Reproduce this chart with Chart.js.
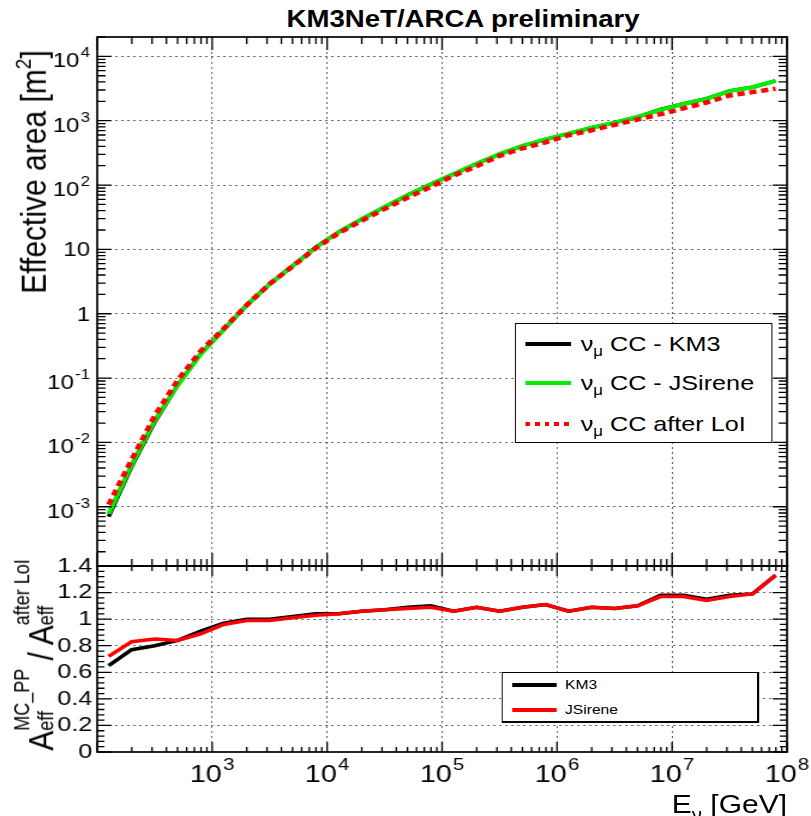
<!DOCTYPE html>
<html>
<head>
<meta charset="utf-8">
<script src="https://cdn.jsdelivr.net/npm/chart.js@4.4.1/dist/chart.umd.min.js"></script>
<style>
html,body{margin:0;padding:0;background:#fff;overflow:hidden;width:811px;height:816px;}
#wrap{position:absolute;left:0;top:0;width:676px;height:816px;transform:scaleX(1.1997);transform-origin:0 0;
  font-family:"Liberation Sans",Arial,Helvetica,sans-serif;color:#000;background:#fff;}
.abs{position:absolute;}
.rot{transform:translate(-50%,-50%) rotate(-90deg);white-space:nowrap;}
.legend{position:absolute;box-sizing:border-box;border:1.5px solid #000;background:#fff;}
.entry{position:absolute;left:0;height:0;width:100%;}
.sample{position:absolute;}
.lt{position:absolute;white-space:nowrap;}
.stk{display:inline-flex;flex-direction:column;font-size:18px;line-height:20px;vertical-align:20px;}
</style>
</head>
<body>
<div id="wrap">
  <div class="abs" style="left:386px;top:8px;transform:translateX(-50%);font-weight:bold;font-size:23px;line-height:23px;white-space:nowrap;">KM3NeT/ARCA preliminary</div>

  <div class="abs" style="left:0;top:0;width:676px;height:572px;"><canvas id="topChart"></canvas></div>
  <div class="abs" style="left:0;top:540px;width:676px;height:276px;"><canvas id="ratioChart"></canvas></div>

  <div class="abs rot" style="left:27.5px;top:172px;font-size:30px;line-height:30px;">Effective area [m<span style="font-size:19px;vertical-align:12px;line-height:0;">2</span>]</div>

  <div class="abs rot" style="left:29px;top:655px;font-size:30px;line-height:30px;">A<span class="stk"><span>MC_PP</span><span>eff</span></span> / A<span class="stk"><span>after LoI</span><span>eff</span></span></div>

  <div class="abs" style="right:20px;top:792px;font-size:25px;line-height:25px;white-space:nowrap;">E<span style="font-size:17px;vertical-align:-7px;line-height:0;">ν</span> [GeV]</div>

  <div class="legend" style="left:429px;top:323px;width:215px;height:120px;">
    <div class="entry" style="top:20px;"><span class="sample" style="left:8px;width:38px;top:-2px;height:4px;background:#000;"></span><span class="lt" style="left:54px;top:-13px;font-size:21px;line-height:26px;">ν<span style="font-size:14px;vertical-align:-5px;line-height:0;">μ</span> CC - KM3</span></div>
    <div class="entry" style="top:59px;"><span class="sample" style="left:8px;width:38px;top:-2px;height:4px;background:#00ee00;"></span><span class="lt" style="left:54px;top:-13px;font-size:21px;line-height:26px;">ν<span style="font-size:14px;vertical-align:-5px;line-height:0;">μ</span> CC - JSirene</span></div>
    <div class="entry" style="top:100px;"><span class="sample" style="left:8px;width:38px;top:-2px;height:4px;background:repeating-linear-gradient(90deg,#ff0000 0 4px,rgba(0,0,0,0) 4px 8px);"></span><span class="lt" style="left:54px;top:-13px;font-size:21px;line-height:26px;">ν<span style="font-size:14px;vertical-align:-5px;line-height:0;">μ</span> CC after LoI</span></div>
  </div>

  <div class="legend" style="left:418px;top:672px;width:215px;height:51px;border-width:1.5px 2.5px 2.5px 1.5px;">
    <div class="entry" style="top:12px;"><span class="sample" style="left:8px;width:37px;top:-2px;height:4px;background:#000;"></span><span class="lt" style="left:52px;top:-8px;font-size:13px;line-height:16px;">KM3</span></div>
    <div class="entry" style="top:37px;"><span class="sample" style="left:8px;width:37px;top:-2px;height:4px;background:#ff0000;"></span><span class="lt" style="left:52px;top:-8px;font-size:13px;line-height:16px;">JSirene</span></div>
  </div>
</div>

<script>
// ---------------- data ----------------
const energyGeV = [125.9, 199.5, 316.2, 501.2, 794.3, 1259, 1995, 3162, 5012, 7943,
  12589, 19953, 31623, 50119, 79433, 125893, 199526, 316228, 501187, 794328,
  1258925, 1995262, 3162278, 5011872, 7943282, 12589254, 19952623, 31622777, 50118723, 79432823];
const effAreaKM3 = [7.0e-4, 4.2e-3, 0.0206, 0.0776, 0.239, 0.567, 1.36, 2.91, 5.56, 10.8,
  18.6, 29.5, 45.7, 69.9, 103, 148, 214, 302, 407, 513,
  631, 776, 933, 1148, 1492, 1836, 2207, 2909, 3311, 4169];
const effAreaJSirene = [7.8e-4, 4.5e-3, 0.0219, 0.0776, 0.234, 0.562, 1.35, 2.88, 5.50, 10.7,
  18.6, 29.5, 45.7, 69.2, 102, 148, 214, 302, 407, 513,
  631, 776, 933, 1148, 1479, 1820, 2188, 2884, 3311, 4169];
const effAreaAfterLoI = [1.08e-3, 5.4e-3, 0.0258, 0.0924, 0.263, 0.585, 1.36, 2.91, 5.45, 10.4,
  17.9, 27.8, 42.7, 64.1, 93.6, 140, 196, 285, 373, 462,
  595, 712, 864, 1044, 1264, 1556, 1919, 2465, 2782, 3135];
const ratioKM3 = [0.65, 0.77, 0.80, 0.84, 0.91, 0.97, 1.00, 1.00, 1.02, 1.04,
  1.04, 1.06, 1.07, 1.09, 1.10, 1.06, 1.09, 1.06, 1.09, 1.11,
  1.06, 1.09, 1.08, 1.10, 1.18, 1.18, 1.15, 1.18, 1.19, 1.33];
const ratioJSirene = [0.72, 0.83, 0.85, 0.84, 0.89, 0.96, 0.99, 0.99, 1.01, 1.03,
  1.04, 1.06, 1.07, 1.08, 1.09, 1.06, 1.09, 1.06, 1.09, 1.11,
  1.06, 1.09, 1.08, 1.10, 1.17, 1.17, 1.14, 1.17, 1.19, 1.33];
const xTickExponents = [3, 4, 5, 6, 7, 8];
const yTopTickExponents = [-3, -2, -1, 0, 1, 2, 3, 4];
const yRatioTicks = [0, 0.2, 0.4, 0.6, 0.8, 1, 1.2, 1.4];

// ---------------- helpers ----------------
const FAM = '"Liberation Sans", Arial, Helvetica, sans-serif';
Chart.defaults.font.family = FAM;
const GRID = 'rgba(0,0,0,0.6)';
const NONE = 'rgba(0,0,0,0)';
function isDecade(v){ if(!(v>0)) return false; const l=Math.log10(v); return Math.abs(l-Math.round(l))<1e-6; }
function pts(ys){ return energyGeV.map((e,i)=>({x:e, y:ys[i]})); }
function logTicks(min,max){
  const out=[];
  for(let e=Math.floor(Math.log10(min)); e<=Math.ceil(Math.log10(max)); e++){
    for(let m=1;m<=9;m++){ const v=m*Math.pow(10,e); if(v>=min*0.999 && v<=max*1.001) out.push({v, major:m===1}); }
  }
  return out;
}
function linTicks(){
  const out=[];
  for(let k=0;k<=35;k++){ out.push({v:k*0.04, major:(k%5===0)}); }
  return out;
}
function drawPow(ctx, exp, x, baseY, size, align){
  const base = exp===0 ? '1' : '10';
  const sup = (exp===0||exp===1) ? '' : String(exp);
  const ss = Math.round(size*0.7);
  ctx.font = size+'px '+FAM; const wb = ctx.measureText(base).width;
  ctx.font = ss+'px '+FAM; const ws = sup ? ctx.measureText(sup).width+1 : 0;
  const x0 = align==='right' ? x-wb-ws : (align==='center' ? x-(wb+ws)/2 : x);
  ctx.textAlign='left'; ctx.textBaseline='alphabetic'; ctx.fillStyle='#000';
  ctx.font = size+'px '+FAM; ctx.fillText(base, x0, baseY);
  if(sup){ ctx.font = ss+'px '+FAM; ctx.fillText(sup, x0+wb+1, baseY-size*0.5); }
}
function framePlugin(opt){
  return {
    id: opt.id,
    afterDatasetsDraw(chart){
      const {ctx, chartArea:a, scales} = chart;
      const x = scales.x, y = scales.y;
      ctx.save();
      ctx.strokeStyle='#000'; ctx.lineWidth=1.3;
      ctx.beginPath();
      for(const t of logTicks(x.min, x.max)){
        const px = x.getPixelForValue(t.v);
        const L = t.major ? opt.xMaj : opt.xMin;
        ctx.moveTo(px, a.bottom); ctx.lineTo(px, a.bottom-L);
        ctx.moveTo(px, a.top); ctx.lineTo(px, a.top+L);
      }
      for(const t of opt.yTicks(y)){
        const py = y.getPixelForValue(t.v);
        const L = t.major ? opt.yMaj : opt.yMin;
        ctx.moveTo(a.left, py); ctx.lineTo(a.left+L, py);
        ctx.moveTo(a.right, py); ctx.lineTo(a.right-L, py);
      }
      ctx.stroke();
      ctx.lineWidth=1.7;
      ctx.strokeRect(a.left, a.top, a.right-a.left, a.bottom-a.top);
      ctx.restore();
    }
  };
}
const gridDecadeX = (c)=>{ const v=c.tick&&c.tick.value; return (isDecade(v) && v>100*1.01 && v<1e8*0.99) ? GRID : NONE; };
const gridDecadeY = (c)=>{ const v=c.tick&&c.tick.value; return isDecade(v) ? GRID : NONE; };
const gridRatioY = (c)=>{ const v=c.tick&&c.tick.value; return (v>0.01 && v<1.39) ? GRID : NONE; };

// ---------------- top chart: effective area ----------------
new Chart(document.getElementById('topChart'), {
  type: 'line',
  data: { datasets: [
    { label:'νμ CC after LoI', data: pts(effAreaAfterLoI), borderColor:'#ff0000', borderWidth:4.5, borderDash:[6,4], order:1 },
    { label:'νμ CC - JSirene', data: pts(effAreaJSirene), borderColor:'#00ee00', borderWidth:4, order:2 },
    { label:'νμ CC - KM3', data: pts(effAreaKM3), borderColor:'#000000', borderWidth:3.5, order:3 }
  ]},
  options: {
    responsive:true, maintainAspectRatio:false, animation:false, events:[],
    layout:{ padding:{ left:0, right:20, top:37, bottom:0 } },
    elements:{ point:{ radius:0 }, line:{ tension:0, fill:false, borderCapStyle:'butt' } },
    plugins:{ legend:{display:false}, tooltip:{enabled:false}, title:{display:false} },
    scales:{
      x:{ type:'logarithmic', min:100, max:1e8,
          ticks:{ display:false }, grid:{ drawTicks:false, color:gridDecadeX, lineWidth:1 },
          border:{ display:false, dash:[2,3] }, afterFit:(s)=>{ s.height = 6; } },
      y:{ type:'logarithmic', min:1.2e-4, max:2e4,
          ticks:{ display:false }, grid:{ drawTicks:false, color:gridDecadeY, lineWidth:1 },
          border:{ display:false, dash:[2,3] }, afterFit:(s)=>{ s.width = 81; } }
    }
  },
  plugins:[
    framePlugin({ id:'frameTop', xMaj:13, xMin:7, yMaj:12, yMin:7, yTicks:(y)=>logTicks(y.min, y.max) }),
    { id:'topLabels', afterDraw(chart){
        const {ctx, chartArea:a, scales:{y}} = chart;
        ctx.save();
        for(const e of yTopTickExponents){
          const py = y.getPixelForValue(Math.pow(10,e));
          const hasSup = !(e===0||e===1);
          drawPow(ctx, e, a.left-6, py + (hasSup ? 11 : 7), 20, 'right');
        }
        ctx.restore();
    } }
  ]
});

// ---------------- ratio chart ----------------
new Chart(document.getElementById('ratioChart'), {
  type: 'line',
  data: { datasets: [
    { label:'JSirene', data: pts(ratioJSirene), borderColor:'#ff0000', borderWidth:3.5, order:1 },
    { label:'KM3', data: pts(ratioKM3), borderColor:'#000000', borderWidth:3.5, order:2 }
  ]},
  options: {
    responsive:true, maintainAspectRatio:false, animation:false, events:[],
    layout:{ padding:{ left:0, right:20, top:26, bottom:0 } },
    elements:{ point:{ radius:0 }, line:{ tension:0, fill:false } },
    plugins:{ legend:{display:false}, tooltip:{enabled:false}, title:{display:false} },
    scales:{
      x:{ type:'logarithmic', min:100, max:1e8,
          ticks:{ display:false }, grid:{ drawTicks:false, color:gridDecadeX, lineWidth:1 },
          border:{ display:false, dash:[2,3] }, afterFit:(s)=>{ s.height = 64; } },
      y:{ type:'linear', min:0, max:1.4,
          afterBuildTicks:(s)=>{ s.ticks = yRatioTicks.map(v=>({value:v})); },
          ticks:{ color:'#000', padding:4, autoSkip:false, font:{ size:21, family:FAM },
                  callback:(v)=>String(Math.round(v*10)/10) },
          grid:{ drawTicks:false, color:gridRatioY, lineWidth:1 },
          border:{ display:false, dash:[2,3] }, afterFit:(s)=>{ s.width = 81; } }
    }
  },
  plugins:[
    framePlugin({ id:'frameRatio', xMaj:10, xMin:5, yMaj:12, yMin:6, yTicks:()=>linTicks() }),
    { id:'xLabels', afterDraw(chart){
        const {ctx, scales:{x}} = chart;
        ctx.save();
        for(const e of xTickExponents){
          drawPow(ctx, e, x.getPixelForValue(Math.pow(10,e)), 242, 24, 'center');
        }
        ctx.restore();
    } }
  ]
});
</script>
</body>
</html>
